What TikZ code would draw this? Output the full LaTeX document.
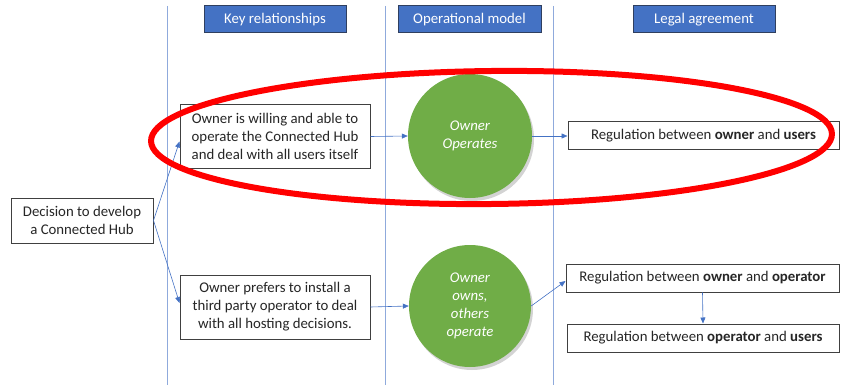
\documentclass[tikz,border=0pt]{standalone}
\usepackage{fontspec}
\setmainfont{Carlito}
\usetikzlibrary{shadows,calc,arrows.meta,shapes.geometric}
\definecolor{hdrblue}{HTML}{4472C4}
\definecolor{hdrborder}{HTML}{2F3F5F}
\definecolor{vline}{HTML}{8FAADC}
\definecolor{boxtext}{HTML}{262626}
\definecolor{boxborder}{HTML}{404040}
\definecolor{circgreen}{HTML}{70AD47}
\definecolor{arrowblue}{HTML}{4472C4}
\begin{document}
\begin{tikzpicture}[x=1pt,y=-1pt,
  hdr/.style={draw=hdrborder,line width=1pt,fill=hdrblue,text=white,font=\fontsize{14.8}{17}\selectfont,minimum height=27pt,inner sep=0pt},
  txtbox/.style={draw=boxborder,line width=1pt,fill=white,text=boxtext,font=\fontsize{14.8}{18}\selectfont,align=center,inner sep=0pt},
  circ/.style={circle,fill=circgreen,text=white,font=\fontsize{14.8}{18}\selectfont\itshape,align=center,inner sep=0pt,
    drop shadow={opacity=0.35,shadow xshift=2pt,shadow yshift=-3pt}},
  conn/.style={draw=arrowblue,line width=0.6pt,-{Triangle[length=6pt,width=5pt]}},
  sep/.style={draw=vline,line width=0.8pt},
  hilite/.style={draw=red,line width=6pt,ellipse,inner sep=0pt}
]
\useasboundingbox (0,0) rectangle (846,385);
% column separators
\coordinate (s1t) at (167,6); \coordinate (s1b) at (167,385);
\coordinate (s2t) at (385,6); \coordinate (s2b) at (385,385);
\coordinate (s3t) at (553,6); \coordinate (s3b) at (553,385);
\draw[sep] (s1t) -- (s1b);
\draw[sep] (s2t) -- (s2b);
\draw[sep] (s3t) -- (s3b);
% headers
\node[hdr,minimum width=142pt] (h1) at (275,19.5) {Key relationships};
\node[hdr,minimum width=143pt] (h2) at (469.5,19.5) {Operational model};
\node[hdr,minimum width=142pt] (h3) at (704,19.5) {Legal agreement};
% boxes
\node[txtbox,minimum width=142pt,minimum height=45pt] (dec) at (82,220.5) {Decision to develop\\a Connected Hub};
\node[txtbox,minimum width=190pt,minimum height=63pt] (b1) at (275,136.5) {Owner is willing and able to\\operate the Connected Hub\\and deal with all users itself};
\node[txtbox,minimum width=190pt,minimum height=64pt] (b2) at (275,307) {Owner prefers to install a\\third party operator to deal\\with all hosting decisions.};
\node[circ,minimum size=124pt] (c1) at (470,136) {Owner\\Operates};
\node[circ,minimum size=122pt] (c2) at (470,306) {Owner\\owns,\\others\\operate};
\node[txtbox,minimum width=271pt,minimum height=28pt] (r1) at (703.5,136) {Regulation between \textbf{owner} and \textbf{users}};
\node[txtbox,minimum width=273pt,minimum height=28pt] (r2) at (702.5,278) {Regulation between \textbf{owner} and \textbf{operator}};
\node[txtbox,minimum width=272pt,minimum height=28pt] (r3) at (703,338) {Regulation between \textbf{operator} and \textbf{users}};
% connectors
\draw[conn] (dec.east) -- ($(b1.west)+(0,5)$);
\draw[conn] (dec.east) -- ($(b2.west)+(0,-4)$);
\draw[conn] (b1.east) -- (c1.west);
\draw[conn] (b2.east) -- (c2.west);
\draw[conn] (c1.east) -- (r1.west);
\draw[conn] (c2.east) -- ($(r2.west)+(0,3)$);
\draw[conn] (r2.south) -- (r3.north);
% red highlight ellipse
\node[hilite,minimum width=681pt,minimum height=133pt,rotate=0.6] (hl) at (491.5,137.5) {};
\end{tikzpicture}
\end{document}
